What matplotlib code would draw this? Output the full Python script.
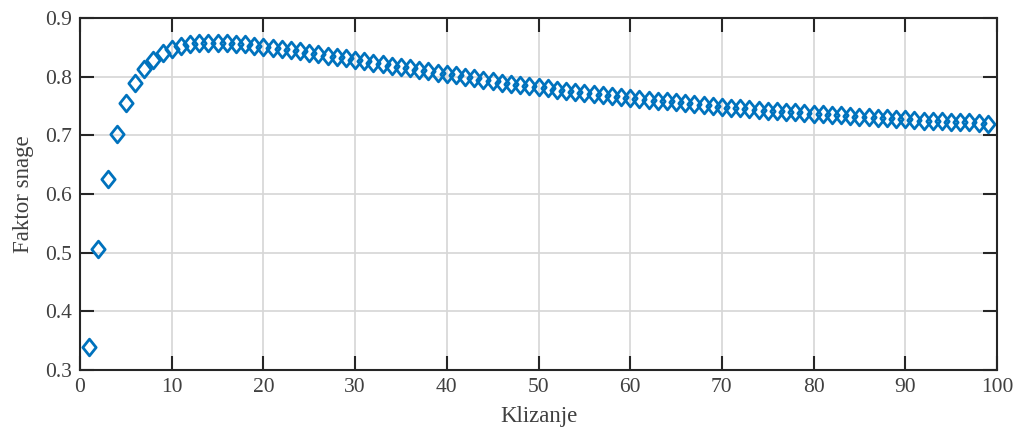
import matplotlib
matplotlib.use("Agg")
import matplotlib.pyplot as plt
from matplotlib.path import Path

# Slip (Klizanje) values and corresponding power factor (Faktor snage)
slip = list(range(1, 100))
power_factor = [
    0.340, 0.506, 0.626, 0.703, 0.755, 0.789, 0.813, 0.829, 0.840, 0.848,
    0.853, 0.856, 0.857, 0.858, 0.858, 0.857, 0.856, 0.855, 0.853, 0.851,
    0.849, 0.847, 0.845, 0.843, 0.840, 0.838, 0.836, 0.833, 0.831, 0.829,
    0.826, 0.824, 0.821, 0.819, 0.817, 0.814, 0.812, 0.810, 0.807, 0.805,
    0.802, 0.800, 0.797, 0.795, 0.793, 0.790, 0.788, 0.786, 0.784, 0.782,
    0.780, 0.778, 0.776, 0.774, 0.772, 0.771, 0.769, 0.767, 0.766, 0.764,
    0.762, 0.761, 0.759, 0.758, 0.756, 0.755, 0.753, 0.752, 0.750, 0.749,
    0.747, 0.746, 0.745, 0.744, 0.742, 0.741, 0.740, 0.739, 0.738, 0.737,
    0.736, 0.735, 0.734, 0.733, 0.732, 0.731, 0.730, 0.729, 0.728, 0.727,
    0.726, 0.725, 0.725, 0.724, 0.723, 0.722, 0.722, 0.721, 0.720,
]
x_ticks = [0, 10, 20, 30, 40, 50, 60, 70, 80, 90, 100]
y_ticks = [0.3, 0.4, 0.5, 0.6, 0.7, 0.8, 0.9]

plt.rcParams['font.family'] = ['Liberation Serif', 'DejaVu Serif']

fig = plt.figure(figsize=(10.16, 4.38), dpi=100)
ax = fig.add_axes([80 / 1016, 68 / 438, 917 / 1016, 352 / 438])

diamond = Path([(0, -1), (0.8, 0), (0, 1), (-0.8, 0), (0, -1)],
               [Path.MOVETO, Path.LINETO, Path.LINETO, Path.LINETO, Path.CLOSEPOLY])

ax.plot(slip, power_factor, linestyle='none', marker=diamond, markersize=12,
        markerfacecolor='none', markeredgecolor='#0072BD', markeredgewidth=2)

ax.set_xlim(0, 100)
ax.set_ylim(0.3, 0.9)
ax.set_xticks(x_ticks)
ax.set_yticks(y_ticks)
ax.set_xticklabels([str(v) for v in x_ticks])
ax.set_yticklabels([f"{v:.1f}" for v in y_ticks])

ax.grid(True, color='#d6d6d6', linewidth=1.2)
ax.set_axisbelow(True)
for s in ax.spines.values():
    s.set_color('#262626')
    s.set_linewidth(1.5)
ax.tick_params(direction='in', length=10, width=1.5, color='#262626',
               top=True, right=True, labelsize=15.5, labelcolor='#404040', pad=6)

ax.set_xlabel('Klizanje', fontsize=16.5, color='#404040', labelpad=6)
ax.set_ylabel('Faktor snage', fontsize=16.5, color='#404040', labelpad=8)

fig.savefig('out.png', dpi=100)
